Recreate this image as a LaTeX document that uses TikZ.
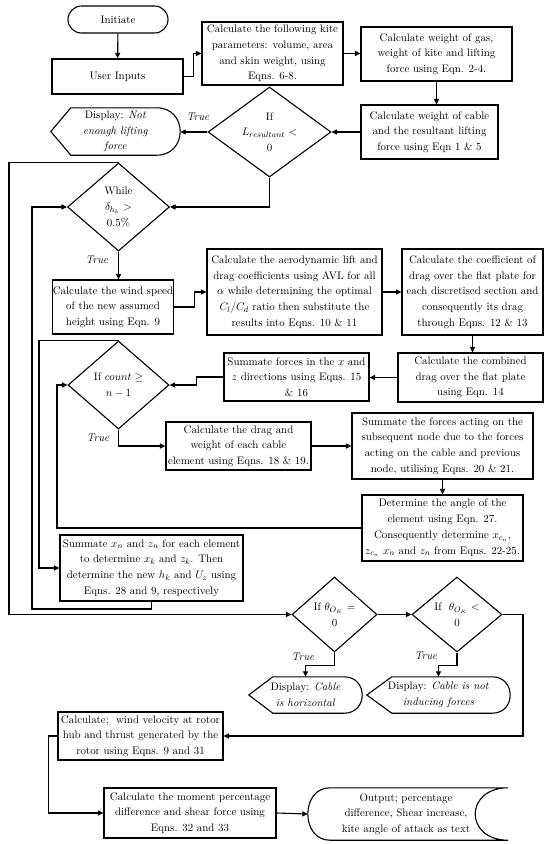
\documentclass[tikz,border=0pt]{standalone}
\usepackage{fontspec}
\usetikzlibrary{shapes.geometric,arrows.meta,calc}
\begin{document}
\begin{tikzpicture}[x=1pt,y=-1pt,
  every node/.style={font=\fontsize{10.9}{15.7}\selectfont},
  box/.style={draw, line width=1.1pt, inner sep=0pt, align=center},
  dia/.style={draw, diamond, line width=1.1pt, inner sep=0pt},
  txt/.style={inner sep=0pt, align=center},
  lbl/.style={inner sep=0pt, font=\fontsize{11.2}{13}\selectfont\itshape},
  arr/.style={line width=1.1pt, -{Triangle[length=5.5pt,width=5pt]}},
  ln/.style={line width=1.1pt}]
\fill[white] (0,0) rectangle (550,844);
\useasboundingbox (0,0) rectangle (550,844);

% ---------- nodes ----------
\node[box, rounded corners=13.5pt, minimum width=100pt, minimum height=27pt] (init) at (118,19.5) {Initiate};
\node[box, minimum width=131pt, minimum height=35pt] (ui) at (117.5,76.5) {User Inputs};
\node[box, minimum width=141pt, minimum height=63pt] (kite) at (272.5,53.5)
  {Calculate the following kite\\parameters: volume, area\\and skin weight, using\\Eqns. 6-8.};
\node[box, minimum width=151pt, minimum height=54pt] (gas) at (436.5,54)
  {Calculate weight of gas,\\weight of kite and lifting\\force using Eqn. 2-4.};
\node[box, minimum width=137pt, minimum height=54pt] (cable) at (429.5,132)
  {Calculate weight of cable\\and the resultant lifting\\force using Eqn 1 \& 5};
\node[dia, minimum width=123pt, minimum height=90pt,
  label={[txt]center:{If\\$L_{resultant}$ $<$\\0}}] (d1) at (269.5,132) {};
\node[txt, minimum width=129pt, minimum height=47pt] (disp1) at (115.5,131.5)
  {Display: \textit{Not}\\\textit{enough lifting}\\\textit{force}};
\node[dia, minimum width=102pt, minimum height=88pt,
  label={[txt]center:{While\\$\delta_{h_k}$ $>$\\0.5\%}}] (d2) at (118.5,207) {};
\node[box, minimum width=120pt, minimum height=54pt] (wind) at (113,307)
  {Calculate the wind speed\\of the new assumed\\height using Eqn. 9};
\node[box, minimum width=175pt, minimum height=86pt] (avl) at (294.5,292)
  {Calculate the aerodynamic lift and\\drag coefficients using AVL for all\\$\alpha$ while determining the optimal\\$C_l/C_d$ ratio then substitute the\\results into Eqns. 10 \& 11};
\node[box, minimum width=141pt, minimum height=86pt] (coef) at (472.5,292)
  {Calculate the coefficient of\\drag over the flat plate for\\each discretised section and\\consequently its drag\\through Eqns. 12 \& 13};
\node[box, minimum width=145pt, minimum height=49pt] (comb) at (470.5,377.5)
  {Calculate the combined\\drag over the flat plate\\using Eqn. 14};
\node[box, minimum width=145pt, minimum height=48pt] (sumf) at (296.5,377)
  {Summate forces in the $x$ and\\$z$ directions using Eqns. 15\\\& 16};
\node[dia, minimum width=101pt, minimum height=88pt,
  label={[txt]center:{If $count\geq$\\$n-1$}}] (d3) at (118.5,385) {};
\node[box, minimum width=145pt, minimum height=48pt] (drag) at (238.5,446)
  {Calculate the drag and\\weight of each cable\\element using Eqns. 18 \& 19.};
\node[box, minimum width=181pt, minimum height=66pt] (subs) at (442.5,446)
  {Summate the forces acting on the\\subsequent node due to the forces\\acting on the cable and previous\\node, utilising Eqns. 20 \& 21.};
\node[box, minimum width=161pt, minimum height=66pt] (angle) at (442.5,528)
  {Determine the angle of the\\element using Eqn. 27.\\Consequently determine $x_{c_n}$,\\$z_{c_n}$ $x_n$ and $z_n$ from Eqns. 22-25.};
\node[box, minimum width=183pt, minimum height=66pt] (sumx) at (151.5,568)
  {Summate $x_n$ and $z_n$ for each element\\to determine $x_k$ and $z_k$. Then\\determine the new $h_k$ and $U_z$ using\\Eqns. 28 and 9, respectively};
\node[dia, minimum width=85pt, minimum height=75pt,
  label={[txt]center:{If $\theta_{O_K}$ $=$\\0}}] (d4) at (334.5,614.5) {};
\node[dia, minimum width=90pt, minimum height=75pt,
  label={[txt]center:{If\ \ $\theta_{O_K}$ $<$\\0}}] (d5) at (457,614.5) {};
\node[txt, minimum width=113pt, minimum height=36pt] (disp2) at (305.5,695)
  {Display: \textit{Cable}\\\textit{is horizontal}};
\node[txt, minimum width=143pt, minimum height=36pt] (disp3) at (438.5,695)
  {Display: \textit{Cable is not}\\\textit{inducing forces}};
\node[box, minimum width=165pt, minimum height=48pt] (windv) at (140.5,736)
  {Calculate;\ \ wind velocity at rotor\\hub and thrust generated by the\\rotor using Eqns. 9 and 31};
\node[box, minimum width=172pt, minimum height=50pt] (moment) at (190,813)
  {Calculate the moment percentage\\difference and shear force using\\Eqns. 32 and 33};
\node[txt, minimum width=200pt, minimum height=52pt] (out) at (406,814)
  {Output; percentage\\difference, Shear increase,\\kite angle of attack as text};

% ---------- custom outlines ----------
\draw[ln] (disp1.west) -- ($(disp1.north west)+(20,0)$) -- ($(disp1.north east)+(-23.5,0)$)
  .. controls ($(disp1.north east)+(7.8,0)$) and ($(disp1.south east)+(7.8,0)$) .. ($(disp1.south east)+(-23.5,0)$)
  -- ($(disp1.south west)+(20,0)$) -- cycle;
\draw[ln] (disp2.west) -- ($(disp2.north west)+(24,0)$) -- ($(disp2.north east)+(-18,0)$)
  .. controls ($(disp2.north east)+(6,0)$) and ($(disp2.south east)+(6,0)$) .. ($(disp2.south east)+(-18,0)$)
  -- ($(disp2.south west)+(24,0)$) -- cycle;
\draw[ln] (disp3.west) -- ($(disp3.north west)+(25,0)$) -- ($(disp3.north east)+(-18,0)$)
  .. controls ($(disp3.north east)+(6,0)$) and ($(disp3.south east)+(6,0)$) .. ($(disp3.south east)+(-18,0)$)
  -- ($(disp3.south west)+(25,0)$) -- cycle;
\draw[ln] ($(out.north west)+(24,0)$) -- ($(out.north east)+(2,0)$)
  .. controls ($(out.north east)+(-42,0)$) and ($(out.south east)+(-42,0)$) .. ($(out.south east)+(2,0)$)
  -- ($(out.south west)+(24,0)$)
  .. controls ($(out.south west)+(-5.3,0)$) and ($(out.north west)+(-5.3,0)$) .. ($(out.north west)+(24,0)$) -- cycle;

% ---------- helper coordinates ----------
\coordinate (c3) at (57,0);
\coordinate (c4) at (39,0);
\coordinate (c5) at (32,609);
\coordinate (c6) at (9,0);
\coordinate (c7) at (523,0);

% ---------- labels ----------
\node[lbl] (t1) at (198,117) {True};
\node[lbl] (t2) at (97,260) {True};
\node[lbl] (t3) at (98,438) {True};
\node[lbl] (t4) at (303,657) {True};
\node[lbl] (t5) at (426,656) {True};

% ---------- connectors ----------
\draw[arr] (init) -- (ui);
\draw[arr] (ui.east) -- ++(10,0) |- (kite.west);
\draw[arr] (kite.east) -- (kite.east -| gas.west);
\draw[arr] (gas.south) -- (gas.south |- cable.north);
\draw[arr] (cable.west) -- (d1.east);
\draw[arr] (d1.west) -- (d1.west -| disp1.east);
\draw[arr] (d1.south) |- (d2.east);
\draw[arr] (d2.south) -- (d2.south |- wind.north);
\draw[arr] (wind.east) -- ++(21,0) |- (avl.west);
\draw[arr] (avl.east) -- (coef.west);
\draw[arr] (coef.south) -- (coef.south |- comb.north);
\draw[arr] (comb.west) -- (comb.west -| sumf.east);
\draw[arr] (sumf.west) -- ++(-27,0) |- (d3.east);
\draw[arr] (d3.south) |- (drag.west);
\draw[arr] (drag.east) -- (subs.west);
\draw[arr] (subs.south) -- (angle.north);
\draw[arr] (angle.west) -- (angle.west -| c3) |- (d3.west);
\draw[arr] (d3.north) -- (d3.north -| c4) |- (sumx.west);
\draw[arr] (sumx.south) |- (c5) |- (d2.west);
\draw[arr] (d2.north) -- (d2.north -| c6) |- (d4.west);
\draw[arr] (d4.east) -- (d5.west);
\draw[arr] (d4.south) -- ++(0,13) -| (disp2.north);
\draw[arr] (d5.south) -- ++(0,13) -| (disp3.north);
\draw[arr] (d5.east) -- (d5.east -| c7) |- (windv.east);
\draw[arr] (windv.west) -- ++(-9,0) |- (moment.west);
\draw[arr] (moment.east) -- ($(out.west)+(2,0)$);
\end{tikzpicture}
\end{document}
